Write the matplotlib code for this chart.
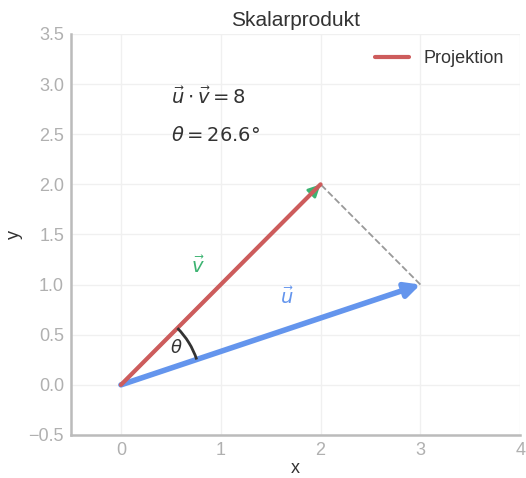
import numpy as np
import matplotlib
matplotlib.use("Agg")
import matplotlib.pyplot as plt
from matplotlib.patches import Arc

u = [3, 1]
v = [2, 2]
proj = [2, 2]
dot_uv = 8
theta_deg = 26.6
xticks = [0, 1, 2, 3, 4]
yticks = [-0.5, 0.0, 0.5, 1.0, 1.5, 2.0, 2.5, 3.0, 3.5]

plt.rcParams['font.family'] = ['Liberation Sans', 'DejaVu Sans']

fig = plt.figure(figsize=(5.26, 4.78), dpi=100)
ax = fig.add_axes([0.135, 0.09, 0.854, 0.839])

# vectors
ax.annotate("", xy=v, xytext=(0, 0),
            arrowprops=dict(arrowstyle="-|>", color="#3cb371", lw=2,
                            mutation_scale=18, shrinkA=0, shrinkB=0))
ax.annotate("", xy=u, xytext=(0, 0),
            arrowprops=dict(arrowstyle="-|>", color="#6495ed", lw=4,
                            mutation_scale=22, shrinkA=0, shrinkB=0))
ax.plot([0, proj[0]], [0, proj[1]], color="#cd5c5c", lw=3, label="Projektion",
        solid_capstyle="round", zorder=4)
ax.plot([u[0], proj[0]], [u[1], proj[1]], color="#999999", lw=1.3, ls="--")

# angle arc
a1 = np.degrees(np.arctan2(u[1], u[0]))
a2 = np.degrees(np.arctan2(v[1], v[0]))
ax.add_patch(Arc((0, 0), 1.6, 1.6, theta1=a1, theta2=a2, color="#333333", lw=2, zorder=5))
ax.text(0.56, 0.37, r"$\theta$", fontsize=13, color="#333333", ha="center", va="center")

ax.text(0.77, 1.18, r"$\vec{v}$", fontsize=14, color="#3cb371", ha="center", va="center")
ax.text(1.66, 0.87, r"$\vec{u}$", fontsize=14, color="#6495ed", ha="center", va="center")

ax.text(0.5, 2.87, r"$\vec{u}\cdot\vec{v} = %d$" % dot_uv, fontsize=14, color="#333333",
        ha="left", va="center")
ax.text(0.5, 2.49, r"$\theta = %.1f°$" % theta_deg, fontsize=14, color="#333333",
        ha="left", va="center")

ax.set_xlim(-0.5, 4)
ax.set_ylim(-0.5, 3.5)
ax.set_xticks(xticks)
ax.set_yticks(yticks)
ax.set_yticklabels(["\u22120.5"] + ["%.1f" % t for t in yticks[1:]])
ax.tick_params(length=0, labelsize=13, labelcolor="#b0b0b0", pad=5)
ax.grid(color="#f0f0f0", lw=1)
ax.set_axisbelow(True)
for s in ["top", "right"]:
    ax.spines[s].set_visible(False)
for s in ["left", "bottom"]:
    ax.spines[s].set_color("#bbbbbb")
    ax.spines[s].set_linewidth(1.8)

ax.set_xlabel("x", fontsize=13, color="#333333", labelpad=1)
ax.set_ylabel("y", fontsize=13, color="#333333", labelpad=4)
ax.set_title("Skalarprodukt", fontsize=15, color="#333333", pad=6)
leg = ax.legend(loc="upper right", frameon=False, fontsize=13, handlelength=1.9,
                handletextpad=0.8)
for t in leg.get_texts():
    t.set_color("#333333")

fig.savefig("out.png")
